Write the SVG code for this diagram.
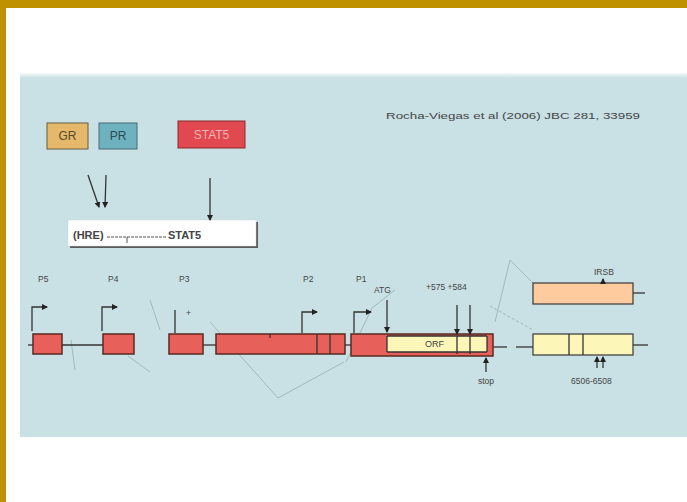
<svg xmlns="http://www.w3.org/2000/svg" width="687" height="502" viewBox="0 0 687 502">
<defs>
<linearGradient id="topfade" x1="0" y1="0" x2="0" y2="1">
<stop offset="0" stop-color="#ffffff"/>
<stop offset="1" stop-color="#c9e1e5"/>
</linearGradient>
<marker id="ah" markerWidth="6" markerHeight="6" refX="5" refY="3" orient="auto" markerUnits="userSpaceOnUse">
<path d="M0,0 L6,3 L0,6 z" fill="#222"/>
</marker>
</defs>
<style>
.lbl{font-family:"Liberation Sans",Arial,sans-serif;font-size:8.5px;fill:#444}
.big{font-family:"Liberation Sans",Arial,sans-serif;font-size:12px}
.ex{fill:#e8605a;stroke:#5a2a22;stroke-width:1.5}
.ln{stroke:#333;stroke-width:1.3;fill:none}
.faint{stroke:#9fb8bc;stroke-width:1;fill:none}
.prom{stroke:#333;stroke-width:1.3;fill:none;marker-end:url(#ah)}
</style>
<rect x="0" y="0" width="687" height="502" fill="#ffffff"/>
<rect x="0" y="0" width="687" height="8" fill="#bf9000"/>
<rect x="0" y="0" width="6" height="502" fill="#bf9000"/>
<rect x="20" y="77" width="667" height="360" fill="#c9e1e5"/>
<rect x="20" y="72" width="667" height="6" fill="url(#topfade)"/>
<text class="lbl" x="386" y="119" fill="#666" style="font-size:9px" textLength="254" lengthAdjust="spacingAndGlyphs">Rocha-Viegas et al (2006) JBC 281, 33959</text>

<g id="GR"><rect x="47" y="123" width="41" height="26" fill="#e5b86c" stroke="#6a5a3a" stroke-width="1"/><text class="big" x="67.5" y="140" text-anchor="middle" fill="#5a4a2a">GR</text></g>
<g id="PR"><rect x="99" y="123" width="38" height="26" fill="#6fb2bf" stroke="#4a6a72" stroke-width="1"/><text class="big" x="118" y="140" text-anchor="middle" fill="#2a4a55">PR</text></g>
<g id="STAT5"><rect x="178" y="121" width="67" height="27" fill="#e1484f" stroke="#8a2a2a" stroke-width="1"/><text class="big" x="211.5" y="139" text-anchor="middle" fill="#f3b3b3">STAT5</text></g>
<g id="HRE"><rect x="70" y="222" width="188" height="26" fill="#5a5a5a"/><rect x="68" y="220" width="188" height="26" fill="#ffffff" stroke="#cfd8da" stroke-width="0.5"/>
<text x="73" y="239" font-family="Liberation Sans,Arial,sans-serif" font-size="11" font-weight="bold" fill="#444">(HRE)</text>
<line x1="107" y1="237" x2="166" y2="237" stroke="#555" stroke-width="1" stroke-dasharray="3,1"/>
<line x1="127" y1="237" x2="127" y2="243" stroke="#555" stroke-width="1"/>
<text x="168" y="239" font-family="Liberation Sans,Arial,sans-serif" font-size="11" font-weight="bold" fill="#444">STAT5</text></g>

<g id="connectors">
<line class="ln" x1="88" y1="175" x2="99" y2="207" marker-end="url(#ah)"/>
<line class="ln" x1="106" y1="175" x2="105" y2="207" marker-end="url(#ah)"/>
<line class="ln" x1="210" y1="178" x2="210" y2="220" marker-end="url(#ah)"/>
<polyline class="faint" points="210,322 278,398 344,362"/>
<polyline class="faint" points="128,356 150,372"/>
<polyline class="faint" points="71,340 75,370"/>
<polyline class="faint" points="150,300 160,330"/>
<polyline class="faint" points="346,362 372,308 395,290"/>
<polyline class="faint" points="495,322 510,260 534,284"/>
<polyline class="faint" points="490,306 533,330" stroke-dasharray="3,2"/>
<line class="ln" x1="62" y1="345" x2="103" y2="345"/>
<line class="ln" x1="203" y1="345" x2="216" y2="345"/>
<line class="ln" x1="345" y1="345" x2="351" y2="345"/>
<line class="ln" x1="493" y1="347" x2="507" y2="347"/>
<line class="ln" x1="516" y1="347" x2="533" y2="347"/>
<line class="ln" x1="633" y1="345" x2="648" y2="345"/>
<line class="ln" x1="633" y1="293" x2="645" y2="293" stroke-width="0.8"/>
<line class="ln" x1="28" y1="345" x2="33" y2="345"/>
</g>

<g id="P5"><text class="lbl" x="38" y="282">P5</text><polyline class="prom" points="32,331 32,307 47,307"/><rect class="ex" x="33" y="334" width="29" height="20"/></g>
<g id="P4"><text class="lbl" x="108" y="282">P4</text><polyline class="prom" points="102,331 102,307 117,307"/><rect class="ex" x="103" y="334" width="31" height="20"/></g>
<g id="P3"><text class="lbl" x="179" y="282">P3</text><line class="ln" x1="175" y1="310" x2="175" y2="333"/><text class="lbl" x="186" y="316" font-size="9">+</text><rect class="ex" x="169" y="334" width="34" height="20"/></g>
<g id="P2"><text class="lbl" x="303" y="282">P2</text><polyline class="prom" points="302,333 302,312 317,312"/><rect class="ex" x="216" y="334" width="129" height="20"/><line class="ln" x1="317" y1="334" x2="317" y2="354"/><line class="ln" x1="330" y1="334" x2="330" y2="354"/><line class="ln" x1="270" y1="334" x2="270" y2="338"/></g>
<g id="P1"><text class="lbl" x="356" y="282">P1</text><polyline class="prom" points="354,333 354,312 371,312"/>
<rect class="ex" x="351" y="334" width="142" height="22"/><rect x="387" y="336" width="100" height="16" fill="#fcf6b8"/>
<line class="ln" x1="387" y1="336" x2="487" y2="336"/><line class="ln" x1="387" y1="352" x2="487" y2="352"/><line class="ln" x1="387" y1="336" x2="387" y2="352"/><line class="ln" x1="487" y1="336" x2="487" y2="352"/>
<text class="lbl" x="425" y="347" style="font-size:9px">ORF</text>
<line class="ln" x1="457" y1="336" x2="457" y2="354"/><line class="ln" x1="470" y1="336" x2="470" y2="354"/></g>
<g id="ATG"><text class="lbl" x="374" y="293">ATG</text><line class="ln" x1="387" y1="300" x2="387" y2="332" marker-end="url(#ah)"/></g>
<g id="sites"><text class="lbl" x="426" y="290">+575 +584</text><line class="ln" x1="457" y1="305" x2="457" y2="334" marker-end="url(#ah)"/><line class="ln" x1="470" y1="305" x2="470" y2="334" marker-end="url(#ah)"/></g>
<g id="stop"><line class="ln" x1="486" y1="372" x2="486" y2="358" marker-end="url(#ah)"/><text class="lbl" x="478" y="384">stop</text></g>
<g id="exonRight"><rect x="533" y="334" width="100" height="21" fill="#fcf6b8" stroke="#444" stroke-width="1.3"/><line class="ln" x1="569" y1="334" x2="569" y2="355"/><line class="ln" x1="583" y1="334" x2="583" y2="355"/>
<line class="ln" x1="597" y1="368" x2="597" y2="357" marker-end="url(#ah)"/><line class="ln" x1="603" y1="368" x2="603" y2="357" marker-end="url(#ah)"/>
<text class="lbl" x="571" y="384">6506-6508</text></g>
<g id="exonOrange"><rect x="533" y="283" width="100" height="21" fill="#fdcb9e" stroke="#444" stroke-width="1.3"/><line class="ln" x1="603" y1="283" x2="603" y2="279" marker-end="url(#ah)"/><text class="lbl" x="594" y="275">IRSB</text></g>
</svg>
